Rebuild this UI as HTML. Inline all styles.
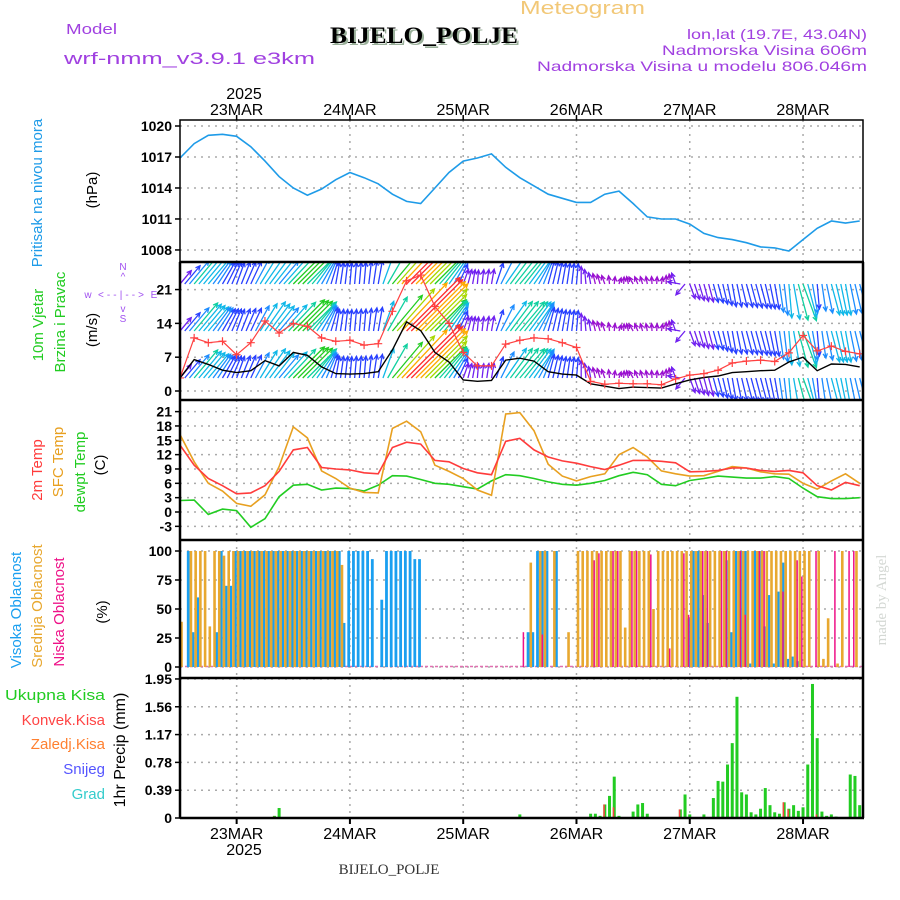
<!DOCTYPE html>
<html><head><meta charset="utf-8"><title>Meteogram BIJELO_POLJE</title>
<style>
html,body{margin:0;padding:0;background:#fff;}
svg{display:block;font-family:"Liberation Sans",sans-serif;}
.tk{font-size:14px;font-weight:bold;fill:#000;text-anchor:end;}
.dl{font-size:16px;fill:#000;text-anchor:middle;}
.pl{font-size:14px;fill:#a040e0;}
</style></head>
<body>
<svg id="chart" width="900" height="900" viewBox="0 0 900 900">
<defs>
<clipPath id="c1"><rect x="180" y="120" width="683" height="142"/></clipPath>
<clipPath id="c2"><rect x="181" y="263" width="681" height="136"/></clipPath>
<clipPath id="c3"><rect x="180" y="400" width="683" height="140"/></clipPath>
<clipPath id="c4"><rect x="180" y="540" width="683" height="138"/></clipPath>
<clipPath id="c5"><rect x="180" y="678" width="683" height="140"/></clipPath>
</defs>
<!-- header -->
<text x="66" y="34" class="pl" style="font-size:15px" textLength="51" lengthAdjust="spacingAndGlyphs">Model</text>
<text x="64" y="64" class="pl" style="font-size:17px" textLength="251" lengthAdjust="spacingAndGlyphs">wrf-nmm_v3.9.1 e3km</text>
<text x="332" y="45" font-family="Liberation Serif" font-weight="bold" font-size="23" fill="#9ab09a" textLength="188" lengthAdjust="spacingAndGlyphs">BIJELO_POLJE</text>
<text x="330" y="43" font-family="Liberation Serif" font-weight="bold" font-size="23" fill="#000" textLength="188" lengthAdjust="spacingAndGlyphs">BIJELO_POLJE</text>
<text x="520" y="14" font-size="18" fill="#f2c878" textLength="125" lengthAdjust="spacingAndGlyphs">Meteogram</text>
<text x="867" y="39" class="pl" text-anchor="end" textLength="180" lengthAdjust="spacingAndGlyphs">lon,lat (19.7E, 43.04N)</text>
<text x="867" y="55" class="pl" text-anchor="end" textLength="205" lengthAdjust="spacingAndGlyphs">Nadmorska Visina 606m</text>
<text x="867" y="71" class="pl" text-anchor="end" textLength="330" lengthAdjust="spacingAndGlyphs">Nadmorska Visina u modelu 806.046m</text>
<text x="244" y="99" class="dl">2025</text>
<!-- left labels -->
<text transform="rotate(-90 42 193)" x="42" y="193" font-size="15" fill="#1e9be8" text-anchor="middle">Pritisak na nivou mora</text>
<text transform="rotate(-90 97 190)" x="97" y="190" font-size="15" fill="#000" text-anchor="middle">(hPa)</text>
<text transform="rotate(-90 43 325)" x="43" y="325" font-size="15" fill="#22cc22" text-anchor="middle">10m Vjetar</text>
<text transform="rotate(-90 65 322)" x="65" y="322" font-size="15" fill="#22cc22" text-anchor="middle">Brzina i Pravac</text>
<text transform="rotate(-90 97 330)" x="97" y="330" font-size="15" fill="#000" text-anchor="middle">(m/s)</text>
<g fill="#a050f0" font-size="10" text-anchor="middle">
<text x="123" y="270">N</text><text x="123" y="280">^</text>
<text x="88" y="298">w</text><text x="121" y="298" textLength="46">&lt;--|--&gt;</text><text x="154" y="298">E</text>
<text x="123" y="312">v</text><text x="123" y="322">S</text>
</g>
<text transform="rotate(-90 42 470)" x="42" y="470" font-size="15" fill="#ff3b3b" text-anchor="middle">2m Temp</text>
<text transform="rotate(-90 63 462)" x="63" y="462" font-size="15" fill="#e8a020" text-anchor="middle">SFC Temp</text>
<text transform="rotate(-90 85 472)" x="85" y="472" font-size="15" fill="#22cc22" text-anchor="middle">dewpt Temp</text>
<text transform="rotate(-90 105 465)" x="105" y="465" font-size="15" fill="#000" text-anchor="middle">(C)</text>
<text transform="rotate(-90 21 610)" x="21" y="610" font-size="15" fill="#1a9ff0" text-anchor="middle">Visoka Oblacnost</text>
<text transform="rotate(-90 42 606)" x="42" y="606" font-size="15" fill="#e8a830" text-anchor="middle">Srednja Oblacnost</text>
<text transform="rotate(-90 64 612)" x="64" y="612" font-size="15" fill="#ee1188" text-anchor="middle">Niska Oblacnost</text>
<text transform="rotate(-90 107 612)" x="107" y="612" font-size="15" fill="#000" text-anchor="middle">(%)</text>
<g font-size="15" text-anchor="end">
<text x="105" y="700" fill="#22cc22" textLength="100" lengthAdjust="spacingAndGlyphs">Ukupna Kisa</text>
<text x="105" y="725" fill="#ff4444">Konvek.Kisa</text>
<text x="105" y="749" fill="#ff8030">Zaledj.Kisa</text>
<text x="105" y="774" fill="#5555ff">Snijeg</text>
<text x="105" y="799" fill="#33cccc">Grad</text>
</g>
<text transform="rotate(-90 125 750)" x="125" y="750" font-size="16" fill="#000" text-anchor="middle">1hr Precip (mm)</text>
<text transform="rotate(-90 886 600)" x="886" y="600" font-family="Liberation Serif" font-size="15" fill="#d4d8d4" text-anchor="middle">made by Angel</text>
<text x="244" y="855" class="dl">2025</text>
<text x="389" y="874" font-family="Liberation Serif" font-size="15" fill="#333" text-anchor="middle">BIJELO_POLJE</text>
<g id="grid"></g>
<g id="marks"></g>
<g id="frames"></g>
</svg>
<script>
// ---------------- data ----------------
const days = ["23MAR","24MAR","25MAR","26MAR","27MAR","28MAR"];
const dayHours = [12,36,60,84,108,132];
const hours3 = [0,3,6,9,12,15,18,21,24,27,30,33,36,39,42,45,48,51,54,57,60,63,66,69,72,75,78,81,84,87,90,93,96,99,102,105,108,111,114,117,120,123,126,129,132,135,138,141,144];
const pressure = [1016.9,1018.3,1019.1,1019.2,1019.0,1018.0,1016.6,1015.1,1014.0,1013.3,1013.9,1014.8,1015.5,1015.0,1014.4,1013.4,1012.7,1012.5,1014.0,1015.5,1016.6,1016.9,1017.3,1016.0,1015.0,1014.2,1013.4,1013.0,1012.6,1012.6,1013.4,1013.7,1012.5,1011.2,1011.0,1011.0,1010.5,1009.6,1009.2,1009.0,1008.7,1008.3,1008.2,1007.9,1009.0,1010.1,1010.8,1010.6,1010.8];
const windSpeed = [2.7,6.5,5.5,4.3,3.8,4.2,6.3,5.2,8.0,7.4,5.0,3.6,3.5,3.6,4.0,8.5,14.3,12.5,8.0,6.0,2.3,2.0,2.2,6.4,6.8,6.2,4.0,3.5,3.3,1.5,1.0,0.5,0.8,0.7,0.6,1.5,2.3,2.8,3.1,3.8,4.0,4.2,4.3,6.0,7.0,4.2,5.6,5.5,5.0];
const windGust = [2.7,11.0,10.0,10.3,7.5,10.0,14.5,12.0,14.0,13.4,11.0,10.3,10.5,9.5,9.8,16.5,22.8,24.0,17.5,14.0,8.0,5.2,5.2,9.7,10.5,11.0,10.8,10.0,9.0,2.0,1.4,1.6,1.5,1.5,1.3,2.5,3.3,3.6,4.3,5.8,6.2,6.4,6.1,7.9,11.5,8.3,9.3,8.2,7.7];
const windDir = [40,40,40,30,20,25,35,40,45,45,30,10,5,5,10,40,45,45,45,35,20,5,10,35,40,35,15,10,5,350,340,20,330,350,10,340,160,165,165,170,165,165,170,175,160,175,165,170,165];
const temp2m = [14.0,9.8,7.0,5.5,3.8,4.0,5.5,8.5,13.0,13.5,9.3,9.0,8.8,8.2,8.0,13.5,14.6,14.2,10.8,10.5,9.1,8.2,7.8,14.8,15.4,13.0,11.5,10.7,10.2,9.5,8.9,9.8,10.8,10.8,10.6,10.3,8.4,8.5,8.7,9.2,9.2,8.7,8.5,8.7,8.2,5.5,4.6,6.2,5.5];
const tempSfc = [16.2,10.5,6.0,4.4,1.8,1.2,3.6,9.5,17.8,15.5,8.6,7.0,5.0,4.1,4.0,17.5,19.0,16.8,9.8,8.5,7.0,4.6,3.5,20.5,20.8,17.0,10.0,7.5,6.5,7.4,8.0,12.0,13.5,11.5,8.6,8.0,7.5,7.6,8.5,9.5,9.2,8.4,8.0,7.9,6.0,4.8,6.5,8.0,6.0];
const dewpoint = [2.4,2.5,-0.5,0.6,0.3,-3.2,-1.4,3.2,5.6,5.8,4.6,5.0,4.9,4.4,5.6,7.6,7.5,6.8,6.0,5.8,5.3,4.8,6.5,7.8,7.6,7.0,6.3,5.8,5.6,6.0,6.6,7.6,8.3,7.8,5.8,5.5,6.6,7.0,7.5,7.3,7.1,7.1,7.4,7.0,5.0,3.2,2.8,2.8,3.0];
const cloudHigh = [0,0,100,30,60,0,0,0,30,100,70,70,
100,100,100,100,100,100,100,100,100,100,100,100,100,100,100,100,100,100,100,100,100,100,100,
38,100,100,100,100,100,93,0,58,100,100,100,100,100,100,93,93,
0,0,0,0,0,0,0,0,0,0,0,0,0,0,0,0,0,0,0,0,0,0,
30,30,100,100,100,0,100,
0,0,0,0,0,0,0,0,0,0,0,0,0,0,0,0,0,0,0,0,0,0,0,0,0,0,0,
42,100,100,62,38,0,0,0,92,30,100,100,100,3,100,100,35,62,3,65,90,7,9,5,
0,0,0,0,0,0,0,0,0,0,0,0,0];
const cloudMid = [39,0,100,100,100,100,35,100,100,96,
100,100,100,100,100,100,100,100,100,100,100,100,100,100,100,100,100,100,100,100,100,100,100,100,
88,
0,0,0,0,0,0,0,0,0,0,0,0,0,0,0,0,0,0,0,0,0,0,0,0,0,0,0,0,0,0,0,0,0,0,0,0,0,0,0,
90,0,100,100,0,100,0,0,30,0,
100,100,100,100,100,100,100,100,100,100,
34,100,100,100,100,100,50,
100,100,100,100,100,100,100,100,100,100,100,100,100,100,100,100,100,100,100,100,100,100,100,100,100,100,100,100,100,100,100,100,
100,0,100,7,42,0,3,100,0,0,100,0];
const lowHours = [72,76,87,88,91,92,95,96,99,103,106,107,110,111,114,115,118,119,122,123,127,130,131,134,138,141,142];
const cloudLow = [30,28,92,98,100,100,100,100,97,16,98,45,100,100,100,100,100,45,100,100,65,92,78,100,100,100,100];
const precipHours = [20,21,72,87,88,89,90,91,92,93,96,97,98,99,106,107,108,111,113,114,115,116,117,118,119,120,121,122,123,124,125,126,127,128,129,130,131,132,133,134,135,136,137,138,139,142,143,144];
const precipTotal = [0.03,0.14,0.05,0.06,0.06,0.03,0.19,0.31,0.58,0.03,0.09,0.19,0.21,0.06,0.12,0.33,0.05,0.05,0.28,0.52,0.51,0.75,1.05,1.70,0.36,0.33,0.08,0.05,0.13,0.42,0.18,0.08,0.06,0.22,0.13,0.18,0.10,0.15,0.75,1.88,1.12,0.09,0.03,0.05,0.02,0.61,0.59,0.18];
const convHours = [20,90,92,106,128,129,135];
const precipConv = [0.02,0.19,0.15,0.12,0.22,0.12,0.05];
const pTicks = [1020,1017,1014,1011,1008];
const wTicks = [21,14,7,0];
const tTicks = [21,18,15,12,9,6,3,0,-3];
const cTicks = [100,75,50,25,0];
const rTicks = [1.95,1.56,1.17,0.78,0.39,0];

// ---------------- axes ----------------
const NS = "http://www.w3.org/2000/svg";
const svg = document.getElementById("chart");
const gGrid = document.getElementById("grid");
const gMarks = document.getElementById("marks");
const gFrames = document.getElementById("frames");
const X0 = 180, X1 = 863;
const xH = h => X0 + h * 4.72;
const yP = p => 126 + (1020 - p) * 10.33;
const yW = v => 391 - v * 4.83;
const yT = t => 512 - t * 4.78;
const yC = c => 667 - c * 1.16;
const yR = r => 818 - r * 71.3;
function mk(tag, attrs, parent) {
  const e = document.createElementNS(NS, tag);
  for (const k in attrs) e.setAttribute(k, attrs[k]);
  parent.appendChild(e);
  return e;
}
const panels = [
  {top:120, bot:262, ticks:pTicks, f:yP, lbl:v=>String(v), name:"pressure"},
  {top:262, bot:400, ticks:wTicks, f:yW, lbl:v=>String(v), name:"wind"},
  {top:400, bot:540, ticks:tTicks, f:yT, lbl:v=>String(v), name:"temperature"},
  {top:540, bot:678, ticks:cTicks, f:yC, lbl:v=>String(v), name:"cloud"},
  {top:678, bot:818, ticks:rTicks, f:yR, lbl:v=>(v===0?"0":v.toFixed(2)), name:"precip"}
];
panels.forEach(p => {
  p.ticks.forEach(v => {
    const y = p.f(v);
    const gl = mk("line", {x1:X0, x2:X1, y1:y, y2:y, stroke:"#aaa", "stroke-width":1.5, "stroke-dasharray":"2,5"}, gGrid);
    
    
    const tm = mk("line", {x1:X0-5, x2:X0, y1:y, y2:y, stroke:"#000", "stroke-width":1.5}, gFrames);
    
    
    const t = mk("text", {x:X0-8, y:y+5, class:"tk"}, gFrames);
    t.textContent = p.lbl(v);
    
    
  });
  dayHours.forEach(h => {
    const vl = mk("line", {x1:xH(h), x2:xH(h), y1:p.top, y2:p.bot, stroke:"#aaa", "stroke-width":1.5, "stroke-dasharray":"2,5"}, gGrid);
    
    
  });
  const r = mk("rect", {x:X0, y:p.top, width:X1-X0, height:p.bot-p.top, fill:"none", stroke:"#000", "stroke-width":1.5}, gFrames);
  
  
});
[262,400,540,678,818].forEach(y => {
  const s = mk("line", {x1:X0, x2:X1+1, y1:y, y2:y, stroke:"#000", "stroke-width":2.5}, gFrames);
  
  
});
[X0, X1].forEach(x => {
  const s = mk("line", {x1:x, x2:x, y1:262, y2:818, stroke:"#000", "stroke-width":2.5}, gFrames);
  
  
});
days.forEach((d, i) => {
  const x = xH(dayHours[i]);
  const t1 = mk("text", {x:x, y:115, class:"dl"}, gFrames);
  t1.textContent = d;
  
  
  const t2 = mk("text", {x:x, y:839, class:"dl"}, gFrames);
  t2.textContent = d;
  
  
  const k1 = mk("line", {x1:x, x2:x, y1:115, y2:120, stroke:"#000", "stroke-width":1.5}, gFrames);
  
  
  const k2 = mk("line", {x1:x, x2:x, y1:818, y2:824, stroke:"#000", "stroke-width":2}, gFrames);
  
  
});

// ---------------- series ----------------
function line(vals, yf, color, clip, name, w) {
  const d = vals.map((v, i) => (i ? "L" : "M") + xH(hours3[i]).toFixed(1) + "," + yf(v).toFixed(1)).join(" ");
  const p = mk("path", {d:d, fill:"none", stroke:color, "stroke-width":w || 1.6, "clip-path":"url(#" + clip + ")"}, gMarks);
  
  
  return p;
}
line(pressure, yP, "#1e9be8", "c1", "pressure-line");

function speedColor(s) {
  if (s < 1.5) return "#9a10d0";
  if (s < 3) return "#7020f0";
  if (s < 4.5) return "#2840ff";
  if (s < 5.5) return "#1c8cff";
  if (s < 6.5) return "#10b8e8";
  if (s < 7.5) return "#10d0a0";
  if (s < 9.5) return "#22cc22";
  if (s < 11.5) return "#a8d800";
  if (s < 13.5) return "#ffaa00";
  return "#ff3030";
}
function interp(arr, h, ang) {
  const i = Math.min(Math.floor(h / 3), arr.length - 2);
  const f = (h - hours3[i]) / 3;
  let a = arr[i], b = arr[i + 1];
  if (ang) { let dd = ((b - a + 540) % 360) - 180; return a + dd * f; }
  return a + (b - a) * f;
}
const gWind = mk("g", {"clip-path":"url(#c2)"}, gMarks);


[284, 331, 378].forEach(by => {
  for (let h = 0; h <= 144; h++) {
    const s = interp(windSpeed, h, false);
    const dir = interp(windDir, h, true) * Math.PI / 180;
    const L = 5 * s + 4;
    const bx = xH(h);
    const tx = bx + L * Math.sin(dir), ty = by - L * Math.cos(dir);
    const hx1 = tx - 5 * Math.sin(dir - 0.45), hy1 = ty + 5 * Math.cos(dir - 0.45);
    const hx2 = tx - 5 * Math.sin(dir + 0.45), hy2 = ty + 5 * Math.cos(dir + 0.45);
    const a = mk("path", {d:`M${bx},${by} L${tx},${ty} M${hx1},${hy1} L${tx},${ty} L${hx2},${hy2}`, stroke:speedColor(s), "stroke-width":1.3, fill:"none"}, gWind);
    
    
  }
});
line(windSpeed, yW, "#000", "c2", "wind-speed-line", 1.4);
line(windGust, yW, "#ff4040", "c2", "wind-gust-line", 1.2);
windGust.forEach((v, i) => {
  const x = xH(hours3[i]), y = yW(v);
  const m = mk("path", {d:`M${x-4},${y} L${x+4},${y} M${x},${y-4} L${x},${y+4}`, stroke:"#ff4040", "stroke-width":1.2, "clip-path":"url(#c2)"}, gMarks);
  
  
});

line(dewpoint, yT, "#22cc22", "c3", "dewpoint-line");
line(tempSfc, yT, "#e8a020", "c3", "sfc-temp-line");
line(temp2m, yT, "#ff3b3b", "c3", "temp-2m-line");

const gCloud = mk("g", {"clip-path":"url(#c4)"}, gMarks);


const zl = mk("line", {x1:X0, x2:X1, y1:666.5, y2:666.5, stroke:"#e070b0", "stroke-width":1.5, "stroke-dasharray":"3,2"}, gCloud);


cloudHigh.forEach((v, h) => {
  if (!v) return;
  const b = mk("rect", {x:xH(h) - 2.6, y:yC(v), width:2.8, height:667 - yC(v), fill:"#1a9ff0"}, gCloud);
  
  
});
cloudMid.forEach((v, h) => {
  if (!v) return;
  const b = mk("rect", {x:xH(h) + 0.2, y:yC(v), width:2.6, height:667 - yC(v), fill:"#e8a830"}, gCloud);
  
  
});
lowHours.forEach((h, i) => {
  const v = cloudLow[i];
  const b = mk("rect", {x:xH(h) + 2.8, y:yC(v), width:1.5, height:667 - yC(v), fill:"#ee1188"}, gCloud);
  
  
});

const gPr = mk("g", {"clip-path":"url(#c5)"}, gMarks);


precipHours.forEach((h, i) => {
  const v = precipTotal[i];
  const b = mk("rect", {x:xH(h) - 1.5, y:yR(v), width:3, height:818 - yR(v), fill:"#22cc22"}, gPr);
  
  
});
convHours.forEach((h, i) => {
  const v = precipConv[i];
  const b = mk("rect", {x:xH(h) - 1.5, y:yR(v), width:1.5, height:818 - yR(v), fill:"#ff4040"}, gPr);
  
  
});
</script>
</body></html>
